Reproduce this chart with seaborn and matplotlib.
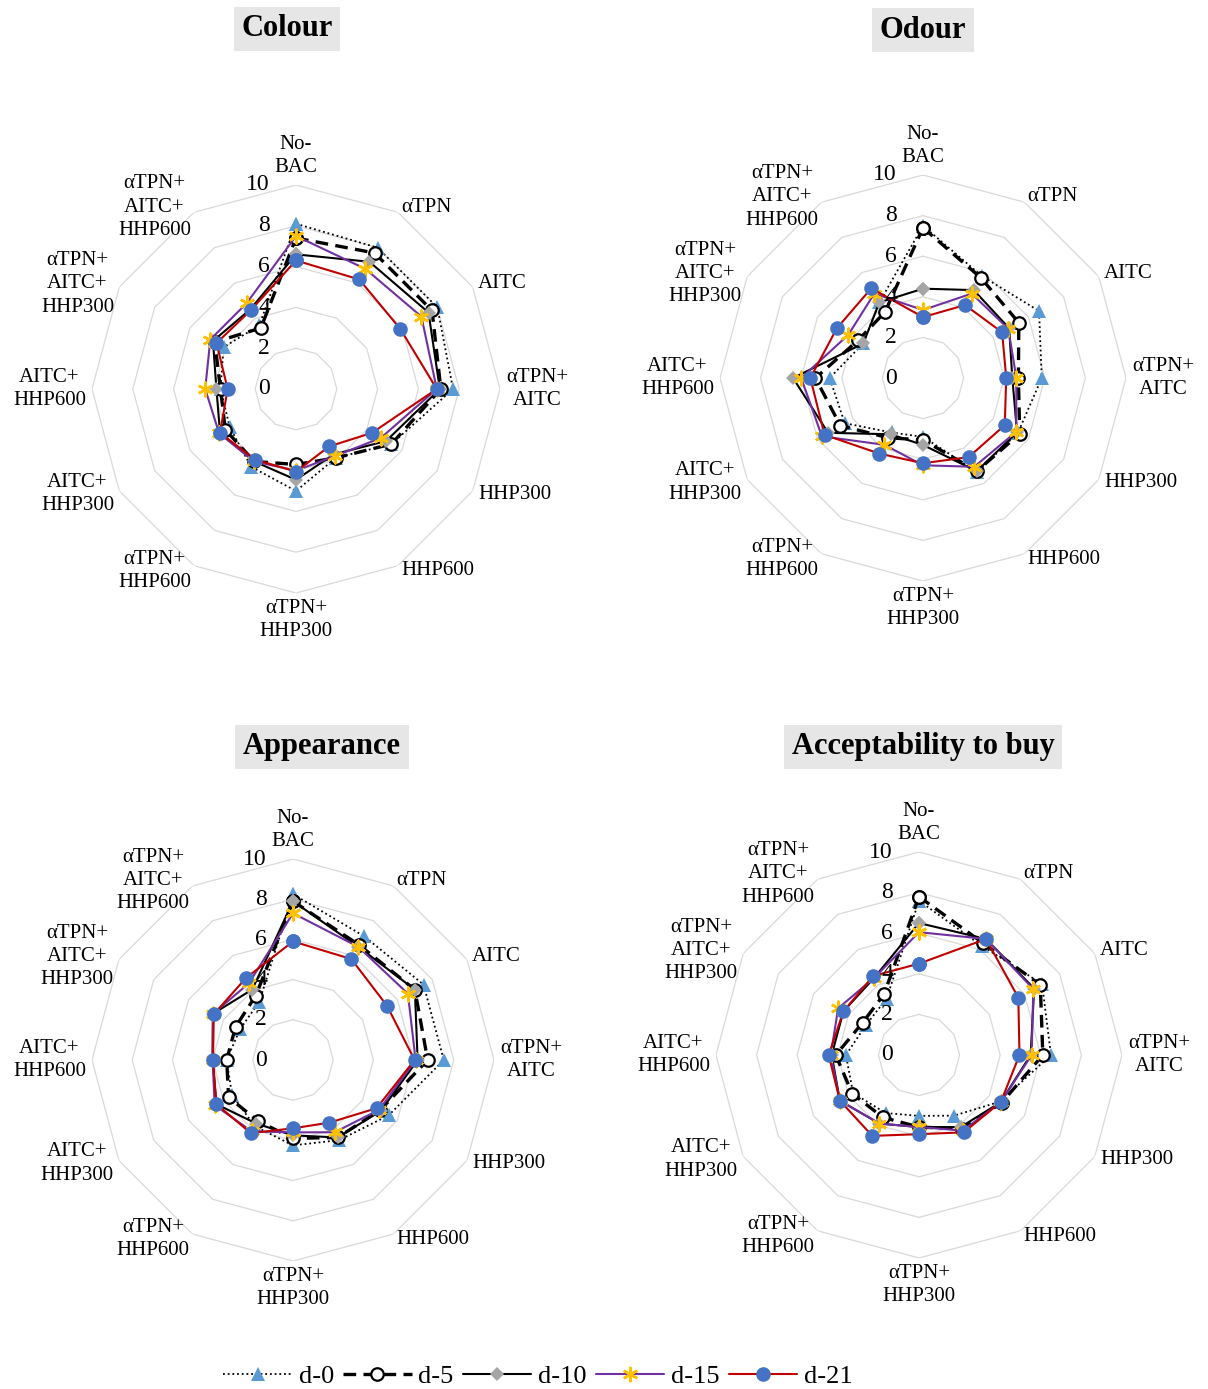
import numpy as np
import pandas as pd
import matplotlib
matplotlib.use("Agg")
import matplotlib.pyplot as plt
from matplotlib.lines import Line2D
from matplotlib.transforms import offset_copy
import seaborn as sns

# ---- categories and storage days ----
categories = ["No-\nBAC", "αTPN", "AITC", "αTPN+\nAITC", "HHP300", "HHP600",
              "αTPN+\nHHP300", "αTPN+\nHHP600", "AITC+\nHHP300", "AITC+\nHHP600",
              "αTPN+\nAITC+\nHHP300", "αTPN+\nAITC+\nHHP600"]
days = ["d-0", "d-5", "d-10", "d-15", "d-21"]
radial_ticks = [0, 2, 4, 6, 8, 10]

# ---- sensory scores (0-10) ----
colour_d0 = [8.1, 8.0, 8.0, 7.7, 5.4, 3.9, 5.0, 4.4, 3.75, 3.7, 4.1, 3.6]
colour_d5 = [7.4, 7.7, 7.7, 7.1, 5.4, 3.9, 3.7, 4.1, 4.0, 3.7, 4.6, 3.45]
colour_d10 = [6.6, 7.2, 7.5, 7.05, 5.1, 3.7, 4.45, 4.1, 4.3, 3.9, 4.7, 4.5]
colour_d15 = [7.5, 6.8, 7.1, 6.9, 4.8, 3.8, 4.0, 4.1, 4.35, 4.45, 4.85, 4.85]
colour_d21 = [6.3, 6.2, 5.9, 6.9, 4.3, 3.25, 4.05, 4.0, 4.3, 3.35, 4.5, 4.45]

odour_d0 = [7.5, 5.8, 6.6, 5.85, 5.4, 5.35, 2.9, 3.1, 4.45, 4.6, 3.4, 4.3]
odour_d5 = [7.4, 5.7, 5.45, 4.7, 5.5, 5.3, 3.05, 3.4, 4.7, 5.3, 3.7, 3.75]
odour_d10 = [4.4, 5.0, 4.9, 4.4, 5.35, 5.3, 3.3, 3.2, 5.4, 6.4, 3.4, 4.3]
odour_d15 = [3.35, 4.8, 4.85, 4.6, 5.3, 5.05, 4.3, 3.8, 5.75, 6.0, 4.25, 4.8]
odour_d21 = [3.0, 4.15, 4.5, 4.1, 4.65, 4.5, 4.2, 4.3, 5.6, 5.55, 4.9, 5.1]

appearance_d0 = [8.25, 7.1, 7.5, 7.5, 5.5, 4.6, 4.25, 3.8, 3.5, 3.3, 3.05, 3.35]
appearance_d5 = [7.9, 6.6, 7.0, 6.7, 5.0, 4.45, 3.9, 3.5, 3.7, 3.3, 3.3, 3.7]
appearance_d10 = [7.9, 6.5, 7.0, 6.2, 5.05, 4.45, 3.75, 3.65, 4.4, 4.0, 4.6, 4.05]
appearance_d15 = [7.3, 6.5, 6.6, 6.1, 4.95, 4.15, 3.6, 4.1, 4.5, 4.0, 4.6, 4.4]
appearance_d21 = [5.9, 5.8, 5.4, 6.05, 4.8, 3.6, 3.4, 4.2, 4.4, 3.98, 4.55, 4.7]

buy_d0 = [7.6, 6.2, 7.0, 6.5, 4.6, 3.45, 3.0, 3.3, 3.75, 3.6, 3.0, 3.2]
buy_d5 = [7.8, 6.35, 6.9, 6.1, 4.7, 4.2, 3.55, 3.55, 3.8, 4.1, 3.2, 3.45]
buy_d10 = [6.5, 6.6, 6.55, 5.5, 4.65, 4.1, 3.55, 3.9, 4.5, 4.3, 4.3, 4.4]
buy_d15 = [6.05, 6.6, 6.5, 5.55, 4.65, 4.3, 3.55, 3.9, 4.5, 4.35, 4.6, 4.4]
buy_d21 = [4.5, 6.6, 5.65, 4.95, 4.65, 4.4, 3.9, 4.6, 4.5, 4.45, 4.3, 4.5]

panels = [
    ("Colour", (296, 389, 204), (287, 29),
     [colour_d0, colour_d5, colour_d10, colour_d15, colour_d21]),
    ("Odour", (923, 378, 203), (923, 30),
     [odour_d0, odour_d5, odour_d10, odour_d15, odour_d21]),
    ("Appearance", (293, 1060, 201), (322, 747),
     [appearance_d0, appearance_d5, appearance_d10, appearance_d15, appearance_d21]),
    ("Acceptability to buy", (919, 1055, 203), (923, 747),
     [buy_d0, buy_d5, buy_d10, buy_d15, buy_d21]),
]

# ---- series styles ----
styles = {
    "d-0": dict(color="black", linewidth=1.3, linestyle=(0, (1, 1.6)),
                marker="^", markersize=10, markerfacecolor="#5b9bd5",
                markeredgecolor="#5b9bd5", markeredgewidth=0),
    "d-5": dict(color="black", linewidth=2.4, linestyle=(0, (3.8, 2.2)),
                marker="o", markersize=9, markerfacecolor="white",
                markeredgecolor="black", markeredgewidth=1.6),
    "d-10": dict(color="black", linewidth=1.5, linestyle="-",
                 marker="D", markersize=7, markerfacecolor="#a5a5a5",
                 markeredgecolor="#a5a5a5", markeredgewidth=0),
    "d-15": dict(color="#7030a0", linewidth=1.5, linestyle="-",
                 marker=(6, 2, 0), markersize=11, markerfacecolor="#ffc000",
                 markeredgecolor="#ffc000", markeredgewidth=1.8),
    "d-21": dict(color="#c00000", linewidth=1.5, linestyle="-",
                 marker="o", markersize=10.5, markerfacecolor="#4472c4",
                 markeredgecolor="#4472c4", markeredgewidth=0),
}

sns.set_style("white")
plt.rcParams["font.family"] = ["Liberation Serif", "DejaVu Serif"]
plt.rcParams["text.color"] = "black"

W, H = 1208, 1389
fig = plt.figure(figsize=(W / 100, H / 100), dpi=100)
fig.patch.set_facecolor("white")

n = len(categories)
theta = np.arange(n) * 2 * np.pi / n
theta_closed = np.append(theta, theta[0])

for title, (cx, cy, R), (tx, ty), series in panels:
    ax = fig.add_axes([(cx - R) / W, (H - cy - R) / H, 2 * R / W, 2 * R / H],
                      projection="polar")
    ax.set_theta_offset(np.pi / 2)
    ax.set_theta_direction(-1)
    ax.set_ylim(0, 10)
    ax.set_axis_off()

    # polygonal gridlines
    for v in radial_ticks[1:]:
        ax.plot(theta_closed, [v] * (n + 1), color="#d9d9d9", linewidth=0.9, zorder=0)

    for day, vals in zip(days, series):
        df = pd.DataFrame({"angle": theta_closed,
                           "score": np.append(vals, vals[0])})
        sns.lineplot(data=df, x="angle", y="score", ax=ax, sort=False,
                     estimator=None, legend=False, **styles[day])

    # radial value labels
    tr = offset_copy(ax.transData, fig=fig, x=-26, y=0, units="dots")
    for v in radial_ticks:
        ax.text(0, v, str(v), transform=tr, ha="right", va="center",
                fontsize=17, color="black", clip_on=False)

    # category labels
    for k, lab in enumerate(categories):
        deg = k * 360 / n
        if deg == 0:
            ha, va, r = "center", "bottom", 10.4
        elif deg == 180:
            ha, va, r = "center", "top", 10.3
        elif deg < 180:
            ha, va, r = "left", "center", 10.3
        else:
            ha, va, r = "right", "center", 10.3
        ax.text(theta[k], r, lab, ha=ha, va=va, multialignment="center",
                fontsize=15, linespacing=1.3, color="black", clip_on=False)

    fig.text(tx / W, 1 - ty / H, title, ha="center", va="center",
             fontsize=22, fontweight="bold", color="black",
             bbox=dict(boxstyle="square,pad=0.25", facecolor="#e7e6e6",
                       edgecolor="none"))

handles = [Line2D([], [], **styles[d]) for d in days]
fig.legend(handles, days, loc="center", bbox_to_anchor=(538 / W, 1 - 1376 / H),
           ncol=5, frameon=False, fontsize=19, handlelength=2.6,
           handletextpad=0.25, columnspacing=0.35, numpoints=1,
           labelcolor="black")

fig.savefig("out.png", dpi=100)
